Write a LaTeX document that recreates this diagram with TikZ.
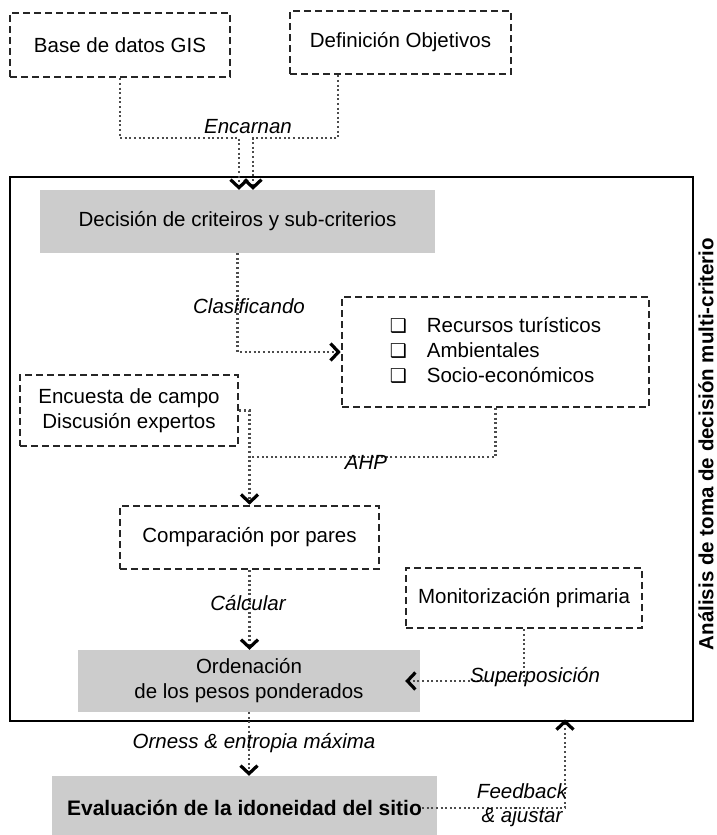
\documentclass[tikz,border=0pt]{standalone}
\usepackage{fontspec}
\setmainfont{Liberation Sans}
\newfontfamily\symfont{DejaVu Sans}
\usetikzlibrary{arrows.meta}
\begin{document}
\begin{tikzpicture}[x=1pt,y=-1pt,
  every node/.style={font=\fontsize{20.5}{25}\selectfont, inner sep=0pt},
  dbox/.style={draw=black!85, line width=2.6pt, dash pattern=on 7pt off 4pt, align=center},
  gbox/.style={fill=black!20, align=center},
  conn/.style={draw=black!70, line width=2.3pt, dash pattern=on 2pt off 2.6pt},
  arr/.style={conn, -{Straight Barb[length=8pt,width=17pt,line width=3.2pt 0,color=black]}},
  lbl/.style={font=\fontsize{20.5}{25}\selectfont\itshape, anchor=base}
]
\path[use as bounding box] (0,0) rectangle (717,835);
\clip (0,0) rectangle (717,835);

% main frame and its title
\node[draw, line width=2.8pt, minimum width=683pt, minimum height=544pt] (main) at (351.5,449) {};
\node[font=\fontsize{20.5}{25}\selectfont\bfseries, rotate=90] (title) at (706,444) {Análisis de toma de decisión multi-criterio};

% boxes
\node[dbox, minimum width=220pt, minimum height=64pt] (base) at (120,45) {Base de datos GIS};
\node[dbox, minimum width=221pt, minimum height=63pt] (def) at (400.5,42.5) {Definición Objetivos};
\node[gbox, minimum width=395pt, minimum height=63pt] (dec) at (237.5,221.5) {Decisión de criteiros y sub-criterios};
\node[dbox, minimum width=307pt, minimum height=110pt] (rec) at (495.5,352) {%
  \begin{tabular}{@{}l@{\hspace{20pt}}l@{}}
  {\symfont\fontsize{19}{19}\selectfont ❑} & Recursos turísticos\\
  {\symfont\fontsize{19}{19}\selectfont ❑} & Ambientales\\
  {\symfont\fontsize{19}{19}\selectfont ❑} & Socio-económicos
  \end{tabular}};
\node[dbox, minimum width=218pt, minimum height=71pt] (enc) at (129,410.5) {Encuesta de campo\\Discusión expertos};
\node[dbox, minimum width=259pt, minimum height=63pt] (comp) at (249.5,537.5) {Comparación por pares};
\node[dbox, minimum width=236pt, minimum height=60pt] (mon) at (524,598) {Monitorización primaria};
\node[gbox, minimum width=342pt, minimum height=62pt] (ord) at (249,681) {Ordenación\\de los pesos ponderados};
\node[gbox, minimum width=385pt, minimum height=64pt, font=\fontsize{21}{25}\selectfont\bfseries] (eval) at (244.5,808) {Evaluación de la idoneidad del sitio};

% connectors
\coordinate (e1) at (239,138);
\coordinate (e2) at (253,138);
\coordinate (d1) at (338,138);
\draw[arr] (base.south) |- (e1) -- (e1 |- dec.north);
\draw[arr] (def.south -| d1) -- (d1) -- (e2) -- (e2 |- dec.north);
\node[lbl] (lenc) at (248,133) {Encarnan};

\draw[arr] (dec.south) |- (rec.west);
\node[lbl] (lcla) at (249,313) {Clasificando};

\coordinate (j) at (250,457);
\draw[arr] (enc.east) -| (comp.north);
\draw[conn] (rec.south) |- (j);
\node[lbl] (lahp) at (366,469) {AHP};

\draw[arr] (comp.south) -- (comp.south |- ord.north);
\node[lbl] (lcal) at (248,610) {Cálcular};

\draw[arr] (mon.south) |- ([xshift=-15pt]ord.east);
\node[lbl] (lsup) at (535,682) {Superposición};

\draw[arr] (ord.south) -- (ord.south |- eval.north);
\node[lbl] (lorn) at (254,748) {Orness \& entropia máxima};

\coordinate (fbx) at (565,800);
\draw[arr, shorten >=-3pt] ([xshift=-15pt]eval.east) -| (fbx |- main.south);
\node[lbl] (lfb1) at (522,798) {Feedback};
\node[lbl] (lfb2) at (522,822) {\& ajustar};
\end{tikzpicture}
\end{document}
